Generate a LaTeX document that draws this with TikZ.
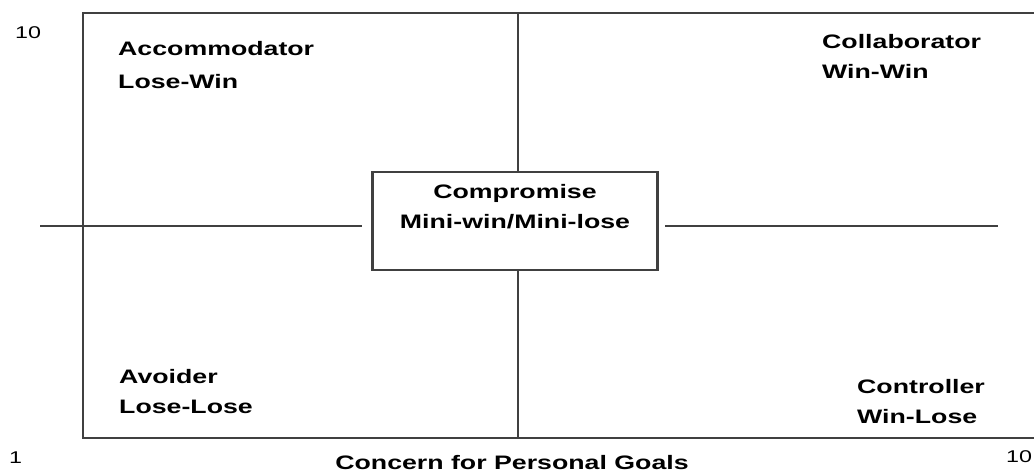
\documentclass[tikz,border=0pt]{standalone}
\usepackage{fontspec}
\usepackage{graphicx}
\setmainfont{Liberation Sans}
\newcommand{\wide}[1]{\scalebox{1.37}[1]{#1}}
\tikzset{
  frame/.style={draw=black!75, line width=2.2pt},
  lbl/.style={inner sep=0pt, anchor=base west, font=\fontsize{19.5}{22}\selectfont\bfseries},
  num/.style={inner sep=0pt, anchor=base west, font=\fontsize{17}{20}\selectfont},
  cbox/.style={draw=black!75, line width=2.2pt, minimum width=285pt, minimum height=98pt, inner sep=0pt}
}
\begin{document}
\begin{tikzpicture}[x=1pt,y=-1pt]
\useasboundingbox (0,0) rectangle (1034,474);
% frame
\coordinate (tl) at (83,13);
\coordinate (tr) at (1036,13);
\coordinate (bl) at (83,438);
\coordinate (br) at (1036,438);
\draw[frame] (tr) -- (tl) -- (bl) -- (br);
% centre box
\node[cbox] (comp) at (515,221) {};
\node[lbl, anchor=base] (c1) at (515,198) {\wide{Compromise}};
\node[lbl, anchor=base] (c2) at (515,228) {\wide{Mini-win/Mini-lose}};
% axes
\coordinate (vt) at (518,13);
\coordinate (vb) at (518,438);
\draw[frame] (vt) -- (comp.north -| vt);
\draw[frame] (comp.south -| vb) -- (vb);
\coordinate (hl1) at (40,226);
\coordinate (hl2) at (362,226);
\coordinate (hr1) at (665,226);
\coordinate (hr2) at (998,226);
\draw[frame] (hl1) -- (hl2);
\draw[frame] (hr1) -- (hr2);
% quadrant labels
\node[lbl] (acc) at (118,55) {\wide{Accommodator}};
\node[lbl] (lw) at (118,88) {\wide{Lose-Win}};
\node[lbl] (col) at (822,48) {\wide{Collaborator}};
\node[lbl] (ww) at (822,78) {\wide{Win-Win}};
\node[lbl] (avo) at (119,383) {\wide{Avoider}};
\node[lbl] (ll) at (119,413) {\wide{Lose-Lose}};
\node[lbl] (con) at (857,393) {\wide{Controller}};
\node[lbl] (wl) at (857,423) {\wide{Win-Lose}};
% axis numbers and title
\node[num] (n10a) at (15,38) {\wide{10}};
\node[num] (n1) at (9,463) {\wide{1}};
\node[num] (n10b) at (1006,462) {\wide{10}};
\node[lbl, anchor=base] (xt) at (512,469) {\wide{Concern for Personal Goals}};
\end{tikzpicture}
\end{document}
